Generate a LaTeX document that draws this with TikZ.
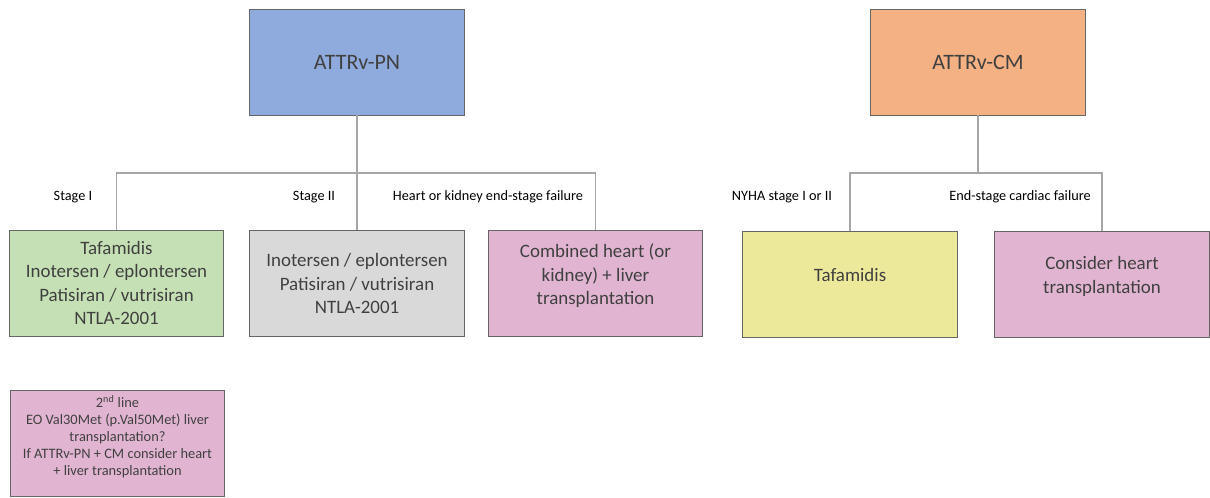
\documentclass[tikz,border=0pt]{standalone}
\usepackage{fontspec}
\setmainfont{Carlito}
\usepackage{xcolor}
\usetikzlibrary{positioning, calc}
\definecolor{pnblue}{RGB}{143, 170, 220}
\definecolor{cmorange}{RGB}{244, 177, 131}
\definecolor{stagegreen}{RGB}{197, 224, 180}
\definecolor{stagegray}{RGB}{217, 217, 217}
\definecolor{txpink}{RGB}{225, 181, 209}
\definecolor{nyhayellow}{RGB}{237, 233, 155}
\definecolor{txtgray}{RGB}{64, 64, 64}
\definecolor{linegray}{RGB}{166, 166, 166}
% empty last line, pushes the text of a box up a little
\newcommand{\liftgap}[1]{\\[#1]\mbox{}}

\begin{document}
\begin{tikzpicture}[x=0.75pt, y=-0.75pt,
    every node/.style={text=txtgray},
    box/.style={draw=txtgray!80, line width=0.6pt, align=center, inner sep=2pt,
                minimum width=161pt, minimum height=79.5pt, font=\fontsize{14.2}{17.6}\selectfont},
    headbox/.style={box, font=\fontsize{16.5}{20}\selectfont},
    notebox/.style={box, font=\fontsize{10.8}{12.8}\selectfont},
    branch/.style={font=\fontsize{10.7}{12}\selectfont, text=black},
    link/.style={draw=linegray, line width=0.8pt}]
        \useasboundingbox (0,0) rectangle (1210,497);

        % disease types
        \node[headbox, fill=pnblue] (pn) at (357,62) {ATTRv-PN};
        \node[headbox, fill=cmorange] (cm) at (978,62) {ATTRv-CM};

        % ATTRv-PN treatments
        \node[box, fill=stagegreen] (stone) at (116.5,283)
          {Tafamidis\\Inotersen / eplontersen\\Patisiran / vutrisiran\\NTLA-2001};
        \node[box, fill=stagegray] (sttwo) at (357,283.5)
          {Inotersen / eplontersen\\Patisiran / vutrisiran\\NTLA-2001};
        \node[box, fill=txpink] (combined) at (595.5,283.5)
          {Combined heart (or\\kidney) + liver\\transplantation\liftgap{-4pt}};
        \node[notebox, fill=txpink] (second) at (117.5,443.5)
          {2\textsuperscript{nd} line\\EO Val30Met (p.Val50Met) liver\\transplantation?\\If ATTRv-PN + CM consider heart\\+ liver transplantation\liftgap{-1pt}};

        % ATTRv-CM treatments
        \node[box, fill=nyhayellow] (tafa) at (850,284) {Tafamidis\liftgap{-4pt}};
        \node[box, fill=txpink] (hearttx) at (1102,284) {Consider heart\\transplantation\liftgap{-4pt}};

        % tree connectors
        \coordinate (pnjoin) at (pn.south |- 0,173);
        \coordinate (cmjoin) at (cm.south |- 0,173);
        \draw[link] (pn.south) -- (pnjoin);
        \draw[link] (stone.north) |- (pnjoin) -| (combined.north);
        \draw[link] (pnjoin) -- (sttwo.north);
        \draw[link] (cm.south) -- (cmjoin);
        \draw[link] (tafa.north) |- (cmjoin) -| (hearttx.north);

        % branch labels
        \node[branch] (lblone) at (73,197) {Stage I};
        \node[branch] (lbltwo) at (314,197) {Stage II};
        \node[branch] (lblfail) at (488,197) {Heart or kidney end-stage failure};
        \node[branch] (lblnyha) at (782,197) {NYHA stage I or II};
        \node[branch] (lblend) at (1020,197) {End-stage cardiac failure};
      \end{tikzpicture}
\end{document}
